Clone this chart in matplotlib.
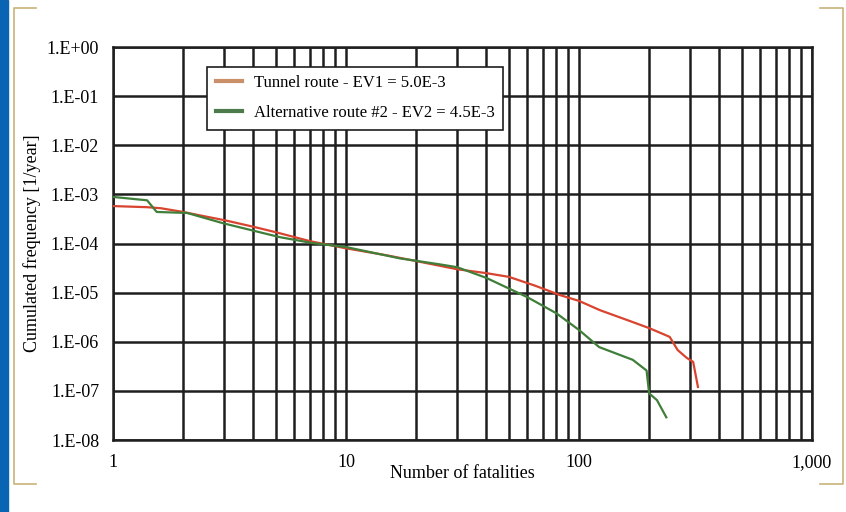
import math
import matplotlib.pyplot as plt
from matplotlib.lines import Line2D
from matplotlib.ticker import FixedLocator, FuncFormatter, NullFormatter

# F-N curve data
tunnel_x = [1, 1.4, 1.6, 2.0, 2.5, 3.0, 4.0, 5.0, 7.0, 10, 15, 20, 30, 40, 50,
            65, 83, 100, 123, 160, 200, 245, 265, 290, 309, 324]
tunnel_y = [5.8e-4, 5.5e-4, 5.25e-4, 4.4e-4, 3.55e-4, 3.0e-4, 2.2e-4, 1.7e-4,
            1.12e-4, 8.0e-5, 5.75e-5, 4.4e-5, 3.0e-5, 2.5e-5, 2.1e-5, 1.38e-5,
            8.9e-6, 6.8e-6, 4.4e-6, 2.8e-6, 1.9e-6, 1.26e-6, 6.8e-7, 4.7e-7,
            3.9e-7, 1.2e-7]

alt_x = [1, 1.4, 1.54, 2.08, 2.96, 5.2, 7.2, 10, 17, 25, 30, 40, 60, 80, 100,
         122, 170, 195, 200, 216, 237]
alt_y = [8.9e-4, 7.6e-4, 4.4e-4, 4.2e-4, 2.6e-4, 1.35e-4, 1.02e-4, 8.5e-5,
         5.0e-5, 3.8e-5, 3.3e-5, 2.0e-5, 8.1e-6, 3.8e-6, 1.74e-6, 7.8e-7,
         4.3e-7, 2.6e-7, 8.9e-8, 6.5e-8, 2.9e-8]

labels = ["Tunnel route - EV1 = 5.0E-3", "Alternative route #2 - EV2 = 4.5E-3"]
x_ticks = [1, 10, 100, 1000]
x_ticklabels = ["1", "10", "100", "1,000"]
y_ticks = [10.0 ** e for e in range(-8, 1)]

plt.rcParams['font.family'] = ['Liberation Serif', 'DejaVu Serif']

fig = plt.figure(figsize=(8.46, 5.12), dpi=100)
ax = fig.add_axes([0.1336, 0.1406, 0.8262, 0.7674])

red = '#d8442f'
green = '#3f7f3a'
ax.plot(tunnel_x, tunnel_y, color=red, lw=1.6, zorder=3)
ax.plot(alt_x, alt_y, color=green, lw=1.6, zorder=3)

ax.set_xscale('log')
ax.set_yscale('log')
ax.set_xlim(1, 1000)
ax.set_ylim(1e-8, 1)

def xfmt(v, p):
    r = int(round(v))
    return x_ticklabels[x_ticks.index(r)] if r in x_ticks else ""

ax.xaxis.set_major_locator(FixedLocator(x_ticks))
ax.xaxis.set_major_formatter(FuncFormatter(xfmt))
ax.xaxis.set_minor_locator(FixedLocator([m * 10 ** d for d in range(3) for m in range(2, 10)]))
ax.xaxis.set_minor_formatter(NullFormatter())
ax.yaxis.set_major_locator(FixedLocator(y_ticks))
ax.yaxis.set_minor_locator(FixedLocator([]))
ax.yaxis.set_major_formatter(FuncFormatter(lambda v, p: "1.E%+03d" % round(math.log10(v))))

ax.grid(True, which='both', axis='x', color='#1e1e1e', lw=1.8)
ax.grid(True, which='major', axis='y', color='#1e1e1e', lw=1.8)
for s in ax.spines.values():
    s.set_color('#1e1e1e')
    s.set_linewidth(1.8)
ax.tick_params(which='both', length=0, labelsize=13, colors='black')
ax.tick_params(axis='x', pad=10)
ax.tick_params(axis='y', pad=10)

ax.set_xlabel("Number of fatalities", fontsize=13, labelpad=-4)
ax.set_ylabel("Cumulated frequency [1/year]", fontsize=13, labelpad=4)

handles = [Line2D([], [], color='#c9906a', lw=3), Line2D([], [], color='#4d7a4a', lw=3)]
leg = ax.legend(handles, labels, loc='upper left', bbox_to_anchor=(0.135, 0.95),
                fontsize=12, frameon=True, fancybox=False, framealpha=1,
                handlelength=1.6, handletextpad=0.7, borderpad=0.5,
                labelspacing=0.85, borderaxespad=0)
leg.get_frame().set_edgecolor('#1e1e1e')
leg.get_frame().set_linewidth(1.2)

# page decorations: blue strip and tan brackets
fig.patches.append(plt.Rectangle((0, 0), 8 / 846, 1, transform=fig.transFigure,
                                 color='#0a64b4', zorder=0))
tan = '#c8b37a'
def fy(p):
    return 1 - p / 512
def fx(p):
    return p / 846
for xs, ys in [([36, 14, 14, 36], [8, 8, 484, 484]),
               ([820, 843, 843, 820], [8, 8, 484, 484])]:
    fig.add_artist(Line2D([fx(v) for v in xs], [fy(v) for v in ys], color=tan, lw=1.2))

fig.savefig('out.png', dpi=100)
